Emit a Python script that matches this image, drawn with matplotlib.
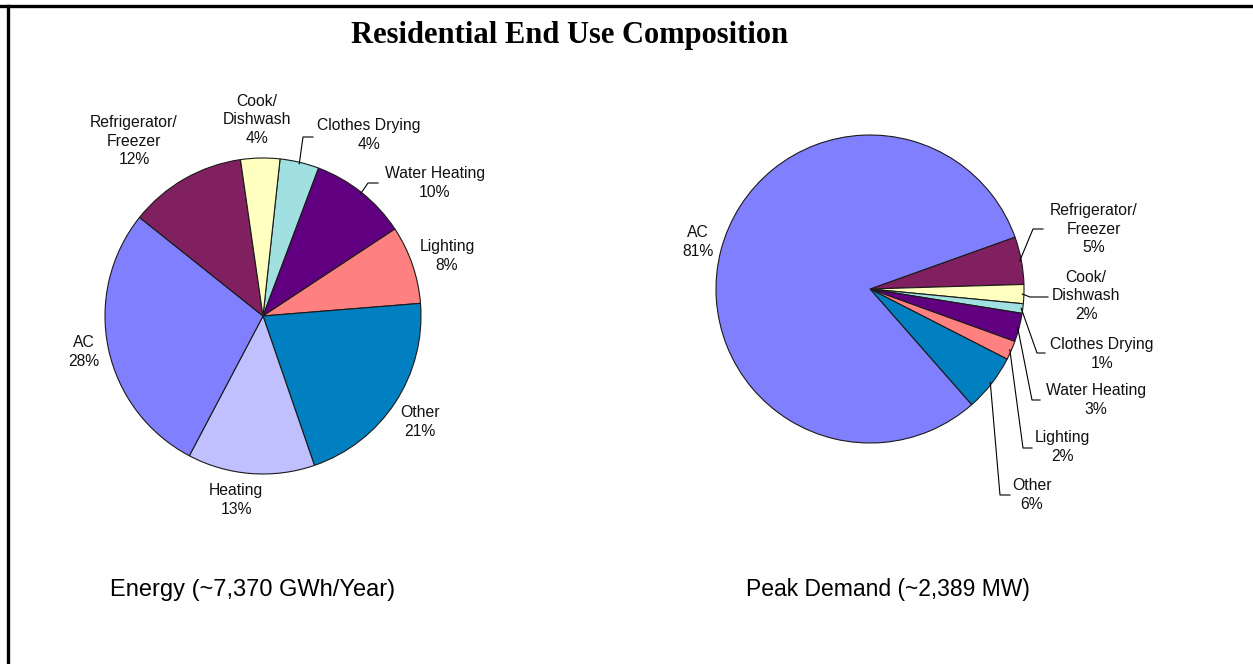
import matplotlib
matplotlib.use("Agg")
import matplotlib.pyplot as plt
import numpy as np
from matplotlib.lines import Line2D

# ---------------- data ----------------
energy_labels = ["Clothes Drying", "Water Heating", "Lighting", "Other",
                 "Heating", "AC", "Refrigerator/\nFreezer", "Cook/\nDishwash"]
energy_values = [4, 10, 8, 21, 13, 28, 12, 4]

peak_labels = ["Refrigerator/\nFreezer", "Cook/\nDishwash", "Clothes Drying",
               "Water Heating", "Lighting", "Other", "AC"]
peak_values = [5, 2, 1, 3, 2, 6, 81]

title = "Residential End Use Composition"
energy_caption = "Energy (~7,370 GWh/Year)"
peak_caption = "Peak Demand (~2,389 MW)"

# ---------------- styles / layout ----------------
color_map = {
    "AC": "#8080FF",
    "Heating": "#C0C0FF",
    "Other": "#0080C0",
    "Lighting": "#FF8080",
    "Water Heating": "#600080",
    "Clothes Drying": "#A0E0E0",
    "Cook/\nDishwash": "#FFFFC0",
    "Refrigerator/\nFreezer": "#802060",
}

W, H = 1253, 664
fig = plt.figure(figsize=(W / 100, H / 100), dpi=100)
ax = fig.add_axes([0, 0, 1, 1])

def P(x, y):
    return x, H - y

FONT = "Liberation Sans"
LBL_SIZE = 11.3

# pie geometry (reference pixel coordinates)
left_c, left_r, left_start = (263, 316), 158, 83.8
right_c, right_r, right_start = (870, 289), 154, 19.7

# label text centers
left_label_pos = {
    "Clothes Drying": (369, 135), "Water Heating": (435, 183),
    "Lighting": (447, 256), "Other": (420, 422), "Heating": (236, 500),
    "AC": (84, 352), "Refrigerator/\nFreezer": (134, 141),
    "Cook/\nDishwash": (257, 120),
}
right_label_pos = {
    "Refrigerator/\nFreezer": (1094, 229), "Cook/\nDishwash": (1086, 296),
    "Clothes Drying": (1102, 354), "Water Heating": (1096, 400),
    "Lighting": (1062, 447), "Other": (1032, 495), "AC": (698, 242),
}
# leader lines: elbow point and end point
left_leaders = {
    "Clothes Drying": [(303, 137), (313, 137)],
    "Water Heating": [(368, 183), (378, 183)],
}
right_leaders = {
    "Refrigerator/\nFreezer": [(1033, 229), (1043, 229)],
    "Cook/\nDishwash": [(1030, 297), (1048, 297)],
    "Clothes Drying": [(1037, 353), (1045, 353)],
    "Water Heating": [(1032, 400), (1040, 400)],
    "Lighting": [(1023, 448), (1032, 448)],
    "Other": [(1000, 495), (1010, 495)],
}

def draw_pie(values, labels, c, r, start, label_pos, leaders):
    wedges, _ = ax.pie(values, colors=[color_map[l] for l in labels],
                       startangle=start, counterclock=False,
                       center=P(*c), radius=r,
                       wedgeprops=dict(edgecolor="#1a1a1a", linewidth=0.8))
    for w, lab, v in zip(wedges, labels, values):
        x, y = label_pos[lab]
        ax.text(*P(x, y), f"{lab}\n{v}%", ha="center", va="center",
                fontsize=LBL_SIZE, family=FONT, linespacing=1.3,
                color="#111111")
        if lab in leaders:
            mid = np.deg2rad((w.theta1 + w.theta2) / 2)
            sx = c[0] + r * 0.99 * np.cos(mid)
            sy = c[1] - r * 0.99 * np.sin(mid)
            pts = [(sx, sy)] + leaders[lab]
            xs = [p[0] for p in pts]
            ys = [H - p[1] for p in pts]
            ax.plot(xs, ys, color="black", lw=0.8)

draw_pie(energy_values, energy_labels, left_c, left_r, left_start,
         left_label_pos, left_leaders)
draw_pie(peak_values, peak_labels, right_c, right_r, right_start,
         right_label_pos, right_leaders)

ax.set_xlim(0, W)
ax.set_ylim(0, H)
ax.set_aspect("auto")
ax.axis("off")

ax.text(*P(570, 43), title, ha="center", va="baseline", fontsize=22,
        family="Liberation Serif", fontweight="bold")
ax.text(*P(253, 596), energy_caption, ha="center", va="baseline",
        fontsize=17, family=FONT)
ax.text(*P(888, 596), peak_caption, ha="center", va="baseline",
        fontsize=16.5, family=FONT)

# border lines (top and left)
fig.add_artist(Line2D([0, 1], [1 - 5.5 / H, 1 - 5.5 / H], color="black",
                      lw=2.4, transform=fig.transFigure))
fig.add_artist(Line2D([7.5 / W, 7.5 / W], [0, 1 - 5.5 / H], color="black",
                      lw=2.4, transform=fig.transFigure))

fig.savefig("out.png", dpi=100, facecolor="white")
